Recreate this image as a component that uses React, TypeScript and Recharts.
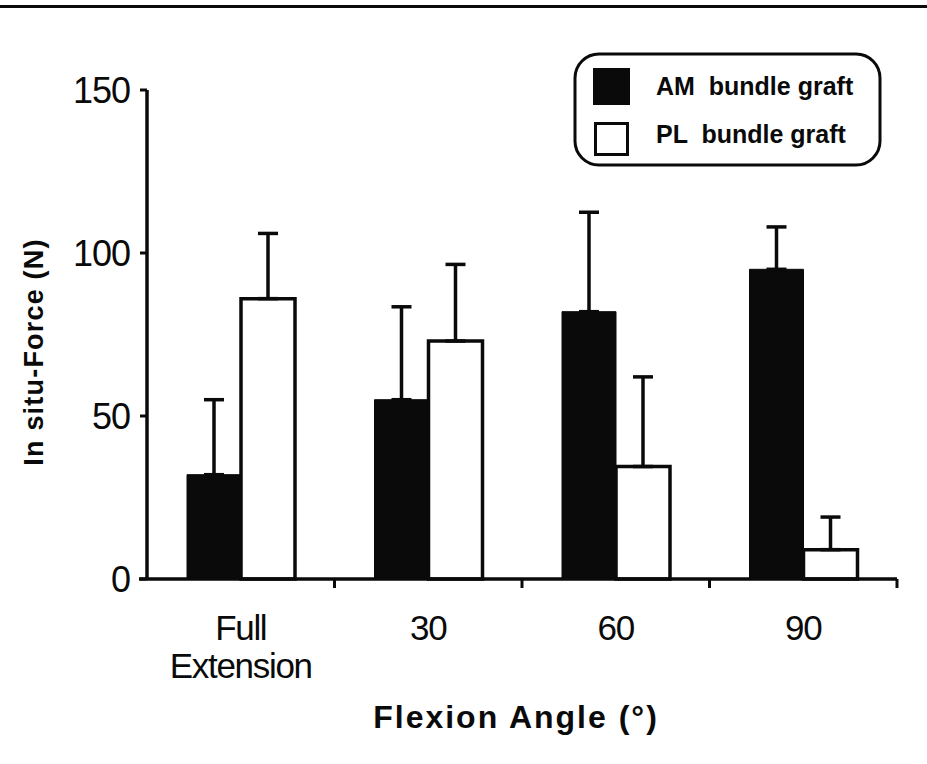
import React from 'react';
import { BarChart, Bar, XAxis, YAxis, ErrorBar, Label } from 'recharts';

const categories = ['Full\nExtension', '30', '60', '90'];
const amForce = [32, 55, 82, 95];
const amSd = [23, 28.5, 30.5, 13];
const plForce = [86, 73, 34.5, 9];
const plSd = [20, 23.5, 27.5, 10];
const yTicks = [0, 50, 100, 150];
const seriesNames = ['AM  bundle graft', 'PL  bundle graft'];
const xTitle = 'Flexion Angle (°)';
const yTitle = 'In situ-Force (N)';

const data = categories.map((c, i) => ({
  angle: c,
  am: amForce[i],
  amErr: [0, amSd[i]],
  pl: plForce[i],
  plErr: [0, plSd[i]],
}));

const FONT = '"Liberation Sans", Arial, sans-serif';
const INK = '#0a0a0a';

const XTick = (props: any) => {
  const { x, y, payload, index } = props;
  const off = payload && payload.offset != null ? payload.offset : 94;
  const lines = String(payload.value).split('\n');
  return (
    <g>
      <line x1={x + off} x2={x + off} y1={y} y2={y + 9} stroke={INK} strokeWidth={3} />
      {index === 0 && <line x1={x - off - 8} x2={x - off} y1={y} y2={y} stroke={INK} strokeWidth={3.5} />}
      {lines.map((l: string, i: number) => (
        <text
          key={i}
          x={x}
          y={y + 61 + i * 38}
          textAnchor="middle"
          fontFamily={FONT}
          fontSize={35}
          letterSpacing={-1.3}
          fill={INK}
        >
          {l}
        </text>
      ))}
    </g>
  );
};

const YLabel = () => (
  <text
    x={34}
    y={352}
    transform="rotate(-90, 34, 352)"
    textAnchor="middle"
    dominantBaseline="central"
    fontFamily={FONT}
    fontWeight="bold"
    fontSize={27}
    letterSpacing={1.2}
    fill={INK}
  >
    {yTitle}
  </text>
);

const LegendBox = () => (
  <svg width={312} height={118} style={{ display: 'block' }}>
    <rect x={2} y={3} width={305} height={111} rx={24} ry={24} fill="#fff" stroke={INK} strokeWidth={3} />
    <rect x={20} y={17} width={37} height={37} fill={INK} />
    <rect x={22.5} y={72.5} width={32} height={31} fill="#fff" stroke={INK} strokeWidth={3} />
    <text x={83} y={44} fontFamily={FONT} fontWeight="bold" fontSize={25} fill={INK} style={{ whiteSpace: 'pre' }}>
      {seriesNames[0]}
    </text>
    <text x={83} y={92} fontFamily={FONT} fontWeight="bold" fontSize={25} fill={INK} style={{ whiteSpace: 'pre' }}>
      {seriesNames[1]}
    </text>
  </svg>
);

export default function App() {
  return (
    <div style={{ position: 'absolute', left: 0, top: 0, width: 927, height: 764, background: '#fff' }}>
      <div style={{ position: 'absolute', left: 0, top: 5, width: 927, height: 3, background: INK }} />
      <BarChart
        width={927}
        height={764}
        data={data}
        margin={{ top: 90, right: 30, bottom: 0, left: 0 }}
        barGap={0}
        barSize={54}
      >
        <XAxis
          dataKey="angle"
          height={185}
          tickLine={false}
          tickSize={0}
          tickMargin={0}
          axisLine={{ stroke: INK, strokeWidth: 3.5 }}
          tick={<XTick />}
          interval={0}
        >
          <Label
            value={xTitle}
            position="insideBottom"
            offset={36}
            dx={-6}
            style={{ fontFamily: FONT, fontWeight: 'bold', fontSize: 32, letterSpacing: 2, fill: INK }}
          />
        </XAxis>
        <YAxis
          width={147}
          domain={[0, 150]}
          ticks={yTicks}
          interval={0}
          tickSize={7}
          tickMargin={10}
          axisLine={{ stroke: INK, strokeWidth: 3.5 }}
          tickLine={{ stroke: INK, strokeWidth: 3 }}
          tick={{ fontFamily: FONT, fontSize: 36, fill: INK, letterSpacing: -1 }}
        >
          <Label content={<YLabel />} />
        </YAxis>
        <Bar dataKey="am" name={seriesNames[0]} fill={INK} stroke={INK} strokeWidth={1} isAnimationActive={false}>
          <ErrorBar dataKey="amErr" width={10} stroke={INK} strokeWidth={3.5} direction="y" />
        </Bar>
        <Bar dataKey="pl" name={seriesNames[1]} fill="#fff" stroke={INK} strokeWidth={3.5} isAnimationActive={false}>
          <ErrorBar dataKey="plErr" width={10} stroke={INK} strokeWidth={3.5} direction="y" />
        </Bar>
      </BarChart>
      <div style={{ position: 'absolute', left: 573, top: 51 }}>
        <LegendBox />
      </div>
    </div>
  );
}
